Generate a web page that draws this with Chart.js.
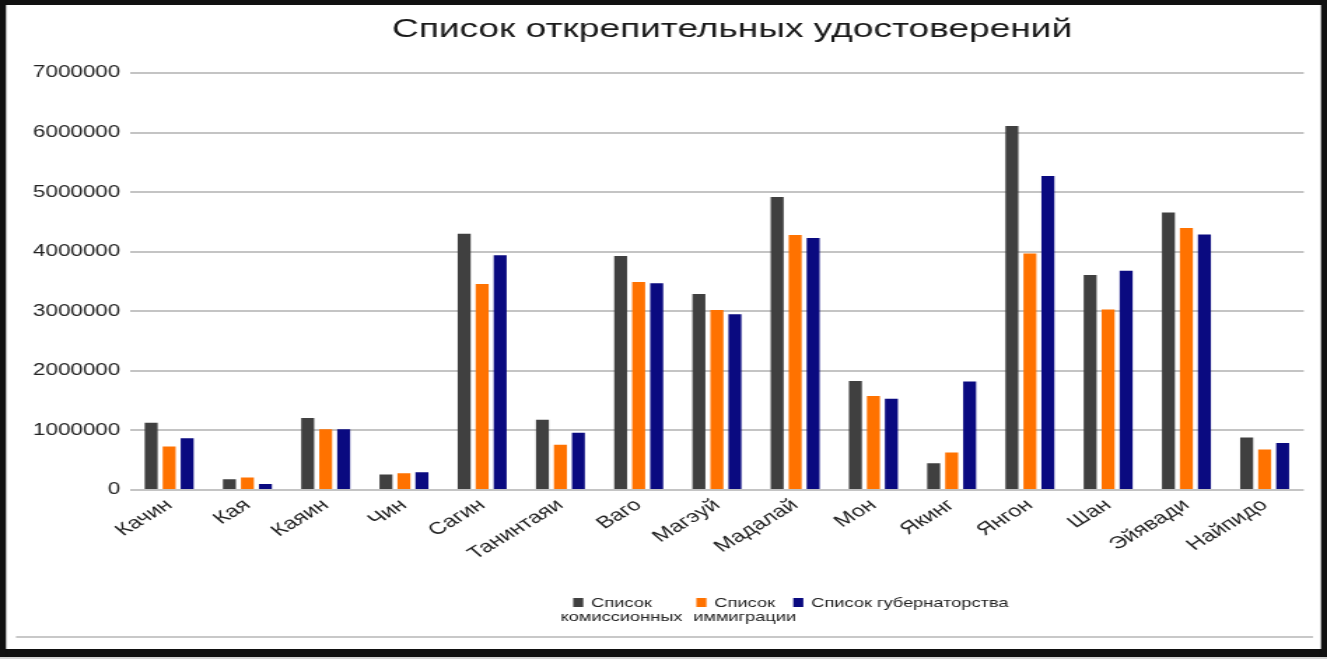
<!DOCTYPE html>
<html>
<head>
<meta charset="utf-8">
<script src="https://cdn.jsdelivr.net/npm/chart.js@4.4.1/dist/chart.umd.min.js"></script>
<style>
  html, body { margin: 0; padding: 0; background: #fff; overflow: hidden; }
  #wrap { width: 948px; height: 659px; transform: scaleX(1.39979); transform-origin: 0 0; }
  canvas { display: block; }
</style>
</head>
<body>
<div id="wrap"><canvas id="c" width="948" height="659" style="width:948px;height:659px"></canvas></div>
<script>
// ---- data ----
const chartTitle = 'Список открепительных удостоверений';
const categories = ['Качин','Кая','Каяин','Чин','Сагин','Танинтаяи','Ваго','Магэуй','Мадалай','Мон','Якинг','Янгон','Шан','Эйявади','Найпидо'];
const seriesNames = ['Список комиссионных','Список иммиграции','Список губернаторства'];
const legendLines = [['Список','комиссионных'],['Список','иммиграции'],['Список губернаторства']];
const commission  = [1130000, 180000, 1210000, 260000, 4300000, 1180000, 3930000, 3290000, 4920000, 1830000, 450000, 6110000, 3610000, 4660000, 880000];
const immigration = [ 730000, 210000, 1020000, 280000, 3460000,  760000, 3490000, 3020000, 4280000, 1580000, 630000, 3970000, 3030000, 4400000, 680000];
const governor    = [ 870000, 100000, 1020000, 300000, 3940000,  960000, 3470000, 2950000, 4230000, 1530000, 1820000, 5270000, 3680000, 4290000, 790000];
const yMax = 7000000;
const yStep = 1000000;

const colors = ['#404040', '#ff7200', '#0a0a80'];
const FONT = "'Liberation Sans', Arial, sans-serif";

const framePlugin = {
  id: 'frame',
  beforeDraw(chart) {
    const ctx = chart.ctx, W = chart.width, H = chart.height;
    ctx.save();
    ctx.fillStyle = '#ffffff';
    ctx.fillRect(0, 0, W, H);
    ctx.restore();
  },
  afterDraw(chart) {
    const ctx = chart.ctx, W = chart.width, H = chart.height;
    ctx.save();
    // frame
    ctx.fillStyle = '#111';
    ctx.fillRect(0, 0, W, 5);
    ctx.fillRect(0, 649, W, 8);
    ctx.fillRect(0, 0, 4.3, H);
    ctx.fillRect(W - 4.3, 0, 4.3, H);
    ctx.fillStyle = '#d6d6d6';
    ctx.fillRect(0, 657, W, 2);
    // inner gray line
    ctx.strokeStyle = '#c8c8c8';
    ctx.lineWidth = 2;
    ctx.beginPath();
    ctx.moveTo(11.4, 637);
    ctx.lineTo(938, 637);
    ctx.stroke();
    // title
    ctx.fillStyle = '#1a1a1a';
    ctx.font = '26.5px ' + FONT;
    ctx.textAlign = 'center';
    ctx.textBaseline = 'alphabetic';
    ctx.fillText(chartTitle, 523, 37);
    // legend
    const centers = [444, 532, 650];
    ctx.font = '13px ' + FONT;
    ctx.textBaseline = 'middle';
    chart.data.datasets.forEach((ds, i) => {
      const lines = legendLines[i];
      const cx = centers[i];
      lines.forEach((ln, j) => {
        ctx.fillStyle = '#222';
        ctx.textAlign = 'center';
        ctx.fillText(ln, cx, 603 + j * 14);
      });
      const w1 = ctx.measureText(lines[0]).width;
      const left = cx - w1 / 2;
      ctx.fillStyle = ds.backgroundColor;
      ctx.fillRect(left - 5.7 - 7.2, 598, 7.2, 9);
    });
    ctx.restore();
  }
};

new Chart(document.getElementById('c'), {
  type: 'bar',
  data: {
    labels: categories,
    datasets: [
      { label: seriesNames[0], data: commission,  backgroundColor: colors[0] },
      { label: seriesNames[1], data: immigration, backgroundColor: colors[1] },
      { label: seriesNames[2], data: governor,    backgroundColor: colors[2] }
    ]
  },
  options: {
    responsive: false,
    animation: false,
    devicePixelRatio: 1,
    layout: { padding: { left: 0, top: 73, right: 16.6, bottom: 0 } },
    datasets: { bar: { categoryPercentage: 0.69, barPercentage: 0.72 } },
    plugins: {
      legend: { display: false },
      title: { display: false },
      tooltip: { enabled: false }
    },
    scales: {
      x: {
        grid: { display: false, drawTicks: false },
        border: { display: false },
        ticks: {
          color: '#222',
          font: { family: FONT, size: 17 },
          minRotation: 40, maxRotation: 40,
          padding: 5,
          autoSkip: false
        },
        afterFit(scale) { scale.height = 169; }
      },
      y: {
        min: 0, max: yMax,
        grid: { color: '#c4c4c4', lineWidth: 2, drawTicks: false },
        border: { display: false },
        ticks: {
          stepSize: yStep,
          color: '#222',
          font: { family: FONT, size: 16 },
          padding: 7,
          callback: v => String(v)
        },
        afterFit(scale) { scale.width = 92.9; }
      }
    }
  },
  plugins: [framePlugin]
});
</script>
</body>
</html>
